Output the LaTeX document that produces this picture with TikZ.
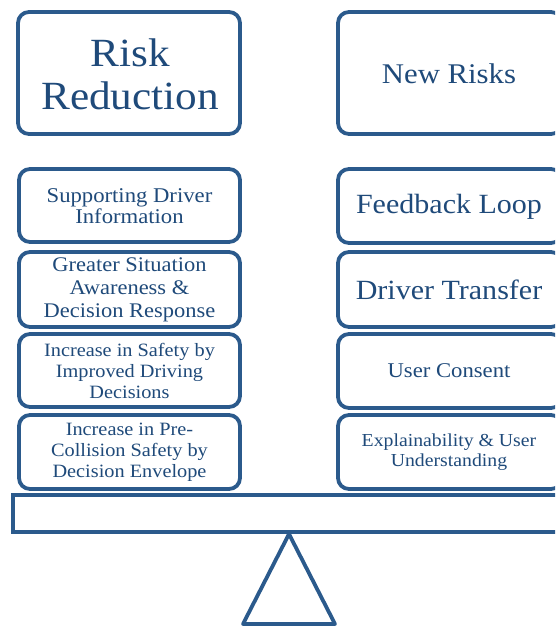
\documentclass[tikz,border=0pt]{standalone}
\usepackage{fontspec}
\setmainfont[FakeStretch=1.08]{Liberation Serif}
\definecolor{frame}{HTML}{2B5A8C}
\definecolor{ink}{HTML}{1F4A7A}
\begin{document}
\begin{tikzpicture}[x=1pt,y=-1pt,
  box/.style={draw=frame,line width=3.8pt,rounded corners=11pt,fill=white,inner sep=0pt},
  txt/.style={text=ink,align=center}]
\useasboundingbox (0,0) rectangle (555,627);
\begin{scope}
\clip (0,0) rectangle (555,627);
% header boxes
\draw[box] (18,12) rectangle (240,134);
\draw[box] (338,12) rectangle (562,134);
\node[txt,font=\fontsize{40}{43}\selectfont] (rr) at (130,74) {Risk\\Reduction};
\node[txt,font=\fontsize{28.5}{32}\selectfont] (nr) at (449,74) {New Risks};
% left column
\draw[box] (19,169) rectangle (240,242);
\draw[box] (19,252) rectangle (240,327);
\draw[box] (19,334) rectangle (240,407);
\draw[box] (19,415) rectangle (240,489);
\node[txt,font=\fontsize{21}{21}\selectfont] (l1) at (129.5,206) {Supporting Driver\\Information};
\node[txt,font=\fontsize{20.8}{23}\selectfont] (l2) at (129.5,290) {Greater Situation\\Awareness \&\\Decision Response};
\node[txt,font=\fontsize{18.8}{21}\selectfont] (l3) at (129.5,371) {Increase in Safety by\\Improved Driving\\Decisions};
\node[txt,font=\fontsize{18.8}{21}\selectfont] (l4) at (129.5,452) {Increase in Pre-\\Collision Safety by\\Decision Envelope};
% right column
\draw[box] (338,169) rectangle (562,243);
\draw[box] (338,252) rectangle (562,327);
\draw[box] (338,334) rectangle (562,408);
\draw[box] (338,415) rectangle (562,489);
\node[txt,font=\fontsize{27.8}{32}\selectfont] (r1) at (449,207) {Feedback Loop};
\node[txt,font=\fontsize{27.8}{32}\selectfont] (r2) at (449,290) {Driver Transfer};
\node[txt,font=\fontsize{21}{24}\selectfont] (r3) at (449,371) {User Consent};
\node[txt,font=\fontsize{18.3}{20}\selectfont] (r4) at (449,452) {Explainability \& User\\Understanding};
% beam and fulcrum
\draw[draw=frame,line width=3.8pt,fill=white] (13,495) rectangle (562,532);
\draw[draw=frame,line width=3.8pt,line join=round] (289,534) -- (335,624) -- (243,624) -- cycle;
\end{scope}
\end{tikzpicture}
\end{document}
